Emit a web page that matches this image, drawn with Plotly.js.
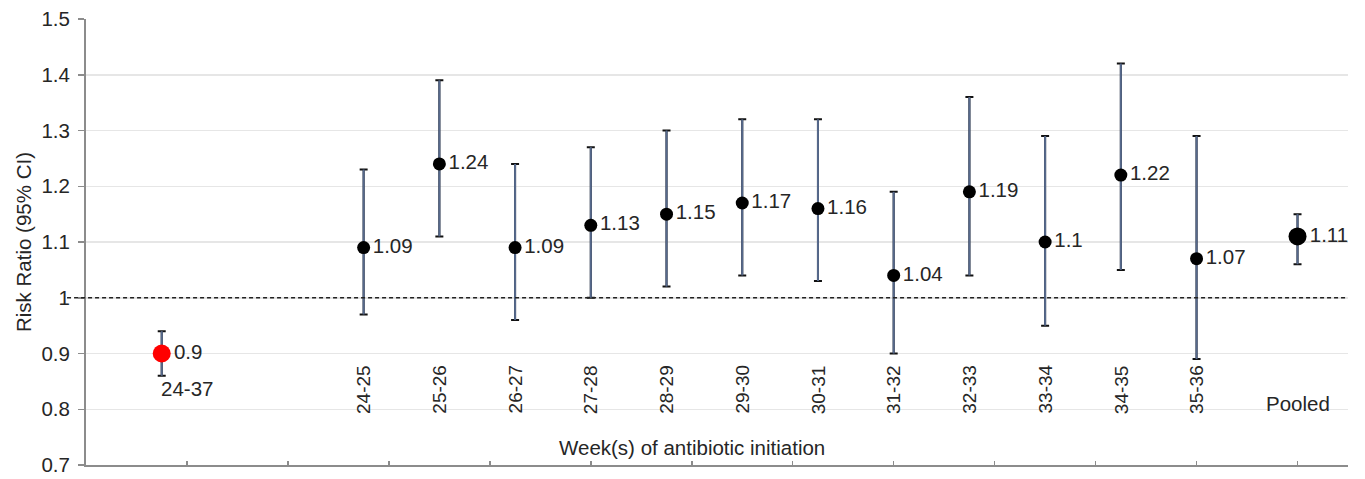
<!DOCTYPE html>
<html>
<head>
<meta charset="utf-8">
<script src="https://cdn.plot.ly/plotly-3.0.1.min.js"></script>
<style>html,body{margin:0;padding:0;background:#fff;}#chart{width:1365px;height:479px;}</style>
</head>
<body>
<div id="chart"></div>
<script>
// ---- data ----
const categories = ["24-37","24-25","25-26","26-27","27-28","28-29","29-30","30-31","31-32","32-33","33-34","34-35","35-36","Pooled"];
const riskRatio  = [0.9, 1.09, 1.24, 1.09, 1.13, 1.15, 1.17, 1.16, 1.04, 1.19, 1.1, 1.22, 1.07, 1.11];
const ciLower    = [0.86, 0.97, 1.11, 0.96, 1.00, 1.02, 1.04, 1.03, 0.90, 1.04, 0.95, 1.05, 0.89, 1.06];
const ciUpper    = [0.94, 1.23, 1.39, 1.24, 1.27, 1.30, 1.32, 1.32, 1.19, 1.36, 1.29, 1.42, 1.29, 1.15];
const yTickVals  = [0.7, 0.8, 0.9, 1, 1.1, 1.2, 1.3, 1.4, 1.5];
const xTitle = "Week(s) of antibiotic initiation";
const yTitle = "Risk Ratio (95% CI)";

// ---- layout positions (slot positions on the x axis) ----
const n = categories.length;
const xPos = categories.map((c, i) => {
  if (i === 0) return 0.75;            // overall 24-37
  if (i === n - 1) return 12;          // pooled
  return 2.75 + (i - 1) * 0.75;        // weekly windows
});
const errPlus  = riskRatio.map((v, i) => ciUpper[i] - v);
const errMinus = riskRatio.map((v, i) => v - ciLower[i]);
const mColors = categories.map((c, i) => i === 0 ? "#ff0000" : "#000000");
const mSizes  = categories.map((c, i) => i === 0 ? 18 : (i === n - 1 ? 18 : 13));

const FONT = "Liberation Sans, Arial, sans-serif";
const TXT = "#262626";
const FS = 20.5;

const traces = [
  { // caps (black)
    x: xPos, y: riskRatio, type: "scatter", mode: "markers",
    marker: {size: 1, opacity: 0},
    error_y: {type: "data", symmetric: false, array: errPlus, arrayminus: errMinus,
              color: "#111111", thickness: 2, width: 4},
    hoverinfo: "skip", showlegend: false
  },
  { // vertical lines (slate) + points + value labels
    x: xPos, y: riskRatio, type: "scatter", mode: "markers+text",
    marker: {size: mSizes, color: mColors, opacity: 1, line: {width: 0}},
    text: riskRatio.map(v => String(v)),
    textposition: "middle right",
    textfont: {family: FONT, size: FS, color: TXT},
    error_y: {type: "data", symmetric: false, array: errPlus, arrayminus: errMinus,
              color: "#56698c", thickness: 2, width: 0},
    showlegend: false
  }
];

const annotations = categories.map((c, i) => {
  if (i === 0) {
    return {x: xPos[i], y: 0.838, xref: "x", yref: "y", text: c, showarrow: false, xshift: -3,
            xanchor: "left", yanchor: "middle", font: {family: FONT, size: FS, color: TXT}};
  }
  if (i === n - 1) {
    return {x: xPos[i], y: 0.811, xref: "x", yref: "y", text: c, showarrow: false,
            xanchor: "center", yanchor: "middle", font: {family: FONT, size: FS, color: TXT}};
  }
  return {x: xPos[i], y: 0.79, xref: "x", yref: "y", text: c, showarrow: false,
          textangle: -90, xanchor: "center", yanchor: "bottom", borderpad: 0,
          font: {family: FONT, size: 19, color: TXT}};
});
annotations.push({x: 6, y: 0.732, xref: "x", yref: "y", text: xTitle, showarrow: false,
  xanchor: "center", yanchor: "middle", font: {family: FONT, size: FS, color: TXT}});

const layout = {
  width: 1365, height: 479,
  margin: {l: 86, r: 17, t: 19, b: 14},
  paper_bgcolor: "#ffffff", plot_bgcolor: "#ffffff",
  font: {family: FONT, size: FS, color: TXT},
  xaxis: {
    range: [0, 12.5], tickvals: [0,1,2,3,4,5,6,7,8,9,10,11,12], showticklabels: false,
    ticks: "inside", ticklen: 4, tickwidth: 1.5, tickcolor: "#8c8c8c",
    showgrid: false, zeroline: false, showline: true, linecolor: "#8c8c8c", linewidth: 2,
    fixedrange: true
  },
  yaxis: {
    range: [0.7, 1.5], tickvals: yTickVals,
    ticks: "outside", ticklen: 6, tickwidth: 1.5, tickcolor: "#8c8c8c",
    ticklabelstandoff: 4,
    tickfont: {family: FONT, size: FS, color: TXT},
    showgrid: true, gridcolor: "#e6e6e6", gridwidth: 1.5,
    zeroline: false, showline: true, linecolor: "#8c8c8c", linewidth: 2,
    title: {text: yTitle, font: {family: FONT, size: FS, color: TXT}, standoff: 4},
    fixedrange: true
  },
  shapes: [{type: "line", xref: "paper", yref: "y", x0: -0.015, x1: 1, y0: 1, y1: 1,
            line: {color: "#222222", width: 1.5, dash: "4px,3px"}}],
  annotations: annotations
};

Plotly.newPlot("chart", traces, layout, {displayModeBar: false, staticPlot: true});
</script>
</body>
</html>
